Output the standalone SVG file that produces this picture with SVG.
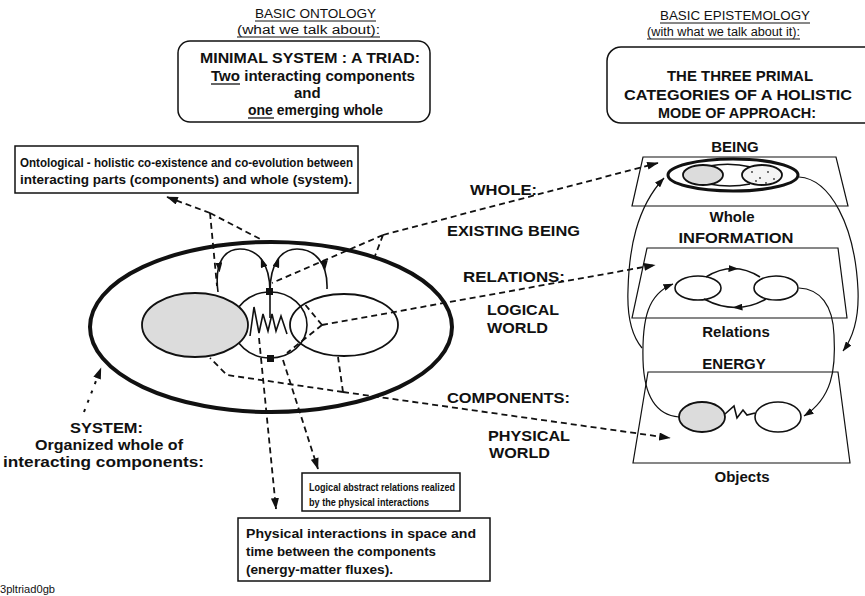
<svg xmlns="http://www.w3.org/2000/svg" width="865" height="596" viewBox="0 0 865 596">
<defs>
<style>
text{font-family:"Liberation Sans",Arial,sans-serif;fill:#111}
.b{font-weight:bold}
.h{font-size:12px}
.t15{font-size:15px;font-weight:bold}
.t12{font-size:12px;font-weight:bold}
.t11{font-size:11px;font-weight:bold}
.box{fill:#fff;stroke:#111;stroke-width:1.5}
.ln{fill:none;stroke:#111;stroke-width:1.6}
.thin{fill:none;stroke:#111;stroke-width:1.2}
.thick{fill:none;stroke:#111;stroke-width:4}
.d{fill:none;stroke:#111;stroke-width:1.8;stroke-dasharray:6 4}
.dot{fill:none;stroke:#111;stroke-width:2;stroke-dasharray:3 7}
.gray{fill:#dcdcdc;stroke:#111;stroke-width:1.8}
.mk{fill:none;stroke:none}
</style>
<marker id="ah" viewBox="0 0 10 7" refX="9.5" refY="3.5" markerWidth="12" markerHeight="8" markerUnits="userSpaceOnUse" orient="auto"><path d="M0,0 L10,3.5 L0,7 z" fill="#111"/></marker>
<marker id="as" viewBox="0 0 10 7" refX="9.5" refY="3.5" markerWidth="10" markerHeight="7" markerUnits="userSpaceOnUse" orient="auto"><path d="M0,0 L10,3.5 L0,7 z" fill="#111"/></marker>
</defs>
<rect width="865" height="596" fill="#fff"/>

<g id="hdr-ontology">
<text class="h" x="255" y="18" textLength="121" lengthAdjust="spacingAndGlyphs">BASIC ONTOLOGY</text>
<line x1="255" y1="21" x2="376" y2="21" stroke="#111" stroke-width="1"/>
<text class="h" x="237" y="34" textLength="143" lengthAdjust="spacingAndGlyphs">(what we talk about):</text>
<line x1="237" y1="37" x2="380" y2="37" stroke="#111" stroke-width="1"/>
</g>
<g id="hdr-epistemology">
<text class="h" x="660" y="20" textLength="150" lengthAdjust="spacingAndGlyphs">BASIC EPISTEMOLOGY</text>
<line x1="660" y1="23" x2="810" y2="23" stroke="#111" stroke-width="1"/>
<text class="h" x="647" y="36" textLength="153" lengthAdjust="spacingAndGlyphs">(with what we talk about it):</text>
<line x1="647" y1="39" x2="800" y2="39" stroke="#111" stroke-width="1"/>
</g>

<g id="triad-box">
<rect class="box" x="178" y="41" width="252" height="81" rx="12"/>
<text class="t15" x="200" y="63" textLength="220" lengthAdjust="spacingAndGlyphs">MINIMAL SYSTEM : A TRIAD:</text>
<text class="t15" x="211" y="81" textLength="204" lengthAdjust="spacingAndGlyphs">Two interacting components</text>
<line x1="211" y1="84" x2="240" y2="84" stroke="#111" stroke-width="1.3"/>
<text class="t15" x="294" y="98">and</text>
<text class="t15" x="248" y="115" textLength="135" lengthAdjust="spacingAndGlyphs">one emerging whole</text>
<line x1="248" y1="118" x2="274" y2="118" stroke="#111" stroke-width="1.3"/>
</g>

<g id="primal-box">
<rect class="box" x="607" y="47" width="275" height="76" rx="14"/>
<text class="t15" x="667" y="81" textLength="146" lengthAdjust="spacingAndGlyphs">THE THREE PRIMAL</text>
<text class="t15" x="624" y="100" textLength="228" lengthAdjust="spacingAndGlyphs">CATEGORIES OF A HOLISTIC</text>
<text class="t15" x="658" y="118" textLength="158" lengthAdjust="spacingAndGlyphs">MODE OF APPROACH:</text>
</g>

<g id="ontological-box">
<rect class="box" x="15" y="146" width="343" height="47"/>
<text class="t12" x="20" y="167" textLength="333" lengthAdjust="spacingAndGlyphs">Ontological - holistic co-existence and co-evolution between</text>
<text class="t12" x="20" y="184" textLength="332" lengthAdjust="spacingAndGlyphs">interacting parts (components) and whole (system).</text>
</g>

<g id="system">
<ellipse class="thick" cx="271" cy="327" rx="181" ry="85"/>
<ellipse class="ln" cx="270" cy="325" rx="37" ry="33"/>
<ellipse class="gray" cx="195" cy="325" rx="53" ry="32"/>
<ellipse class="ln" cx="344" cy="325" rx="54" ry="31" style="stroke-width:1.8"/>
<path class="ln" d="M218,292 C214,262 225,249 240,249 C257,249 270,262 270,292"/>
<path class="ln" d="M270,292 C270,262 282,249 297,249 C314,249 328,262 327,289"/>
<path class="ln" d="M270,292 L270,318"/>
<path class="ln" d="M250,336 L254,307 L259,333 L263,314 L268,331 L272,314 L276,331 L281,316 L287,334"/>
<rect x="266" y="288" width="7" height="7" fill="#111"/>
<rect x="267" y="355" width="7" height="7" fill="#111"/>
<path class="mk" d="M218.5,258 L219.5,272" marker-end="url(#as)"/>
<path class="mk" d="M266,272 L261,258" marker-end="url(#as)"/>
<path class="mk" d="M274,272 L279,258" marker-end="url(#as)"/>
<path class="mk" d="M324,256 L325,270" marker-end="url(#as)"/>
</g>

<g id="system-label">
<text class="t15" x="70" y="433" textLength="73" lengthAdjust="spacingAndGlyphs">SYSTEM:</text>
<text class="t15" x="35" y="450" textLength="148" lengthAdjust="spacingAndGlyphs">Organized whole of</text>
<text class="t15" x="3" y="467" textLength="201" lengthAdjust="spacingAndGlyphs">interacting components:</text>
</g>

<g id="mid-labels">
<text class="t15" x="470" y="195" textLength="67" lengthAdjust="spacingAndGlyphs">WHOLE:</text>
<text class="t15" x="447" y="236" textLength="133" lengthAdjust="spacingAndGlyphs">EXISTING BEING</text>
<text class="t15" x="463" y="282" textLength="102" lengthAdjust="spacingAndGlyphs">RELATIONS:</text>
<text class="t15" x="487" y="315" textLength="72" lengthAdjust="spacingAndGlyphs">LOGICAL</text>
<text class="t15" x="487" y="333" textLength="61" lengthAdjust="spacingAndGlyphs">WORLD</text>
<text class="t15" x="447" y="403" textLength="123" lengthAdjust="spacingAndGlyphs">COMPONENTS:</text>
<text class="t15" x="488" y="441" textLength="82" lengthAdjust="spacingAndGlyphs">PHYSICAL</text>
<text class="t15" x="489" y="458" textLength="61" lengthAdjust="spacingAndGlyphs">WORLD</text>
</g>

<g id="logical-box">
<rect class="box" x="302" y="473" width="158" height="38"/>
<text class="t11" x="309" y="491" textLength="146" lengthAdjust="spacingAndGlyphs">Logical abstract relations realized</text>
<text class="t11" x="309" y="506" textLength="120" lengthAdjust="spacingAndGlyphs">by the physical interactions</text>
</g>

<g id="physical-box">
<rect class="box" x="238" y="518" width="252" height="63"/>
<text class="t12" x="246" y="538" textLength="230" lengthAdjust="spacingAndGlyphs">Physical interactions in space and</text>
<text class="t12" x="246" y="556" textLength="190" lengthAdjust="spacingAndGlyphs">time between the components</text>
<text class="t12" x="246" y="574" textLength="147" lengthAdjust="spacingAndGlyphs">(energy-matter fluxes).</text>
</g>

<g id="being-plane">
<text class="t15" x="735" y="152" text-anchor="middle">BEING</text>
<polygon class="thin" points="643,157 836,157 848,206 632,206"/>
<ellipse cx="733" cy="175" rx="65" ry="16" fill="none" stroke="#111" stroke-width="3"/>
<path class="ln" d="M709,166 Q730,162 751,167 M709,184 Q730,188 750,184"/>
<ellipse class="gray" cx="703" cy="175" rx="20" ry="10"/>
<ellipse cx="762" cy="175" rx="20" ry="10" fill="#f4f4f4" stroke="#111" stroke-width="1.8"/>
<g fill="#333"><circle cx="752" cy="172" r="0.9"/><circle cx="760" cy="178" r="0.9"/><circle cx="768" cy="172" r="0.9"/><circle cx="774" cy="179" r="0.9"/><circle cx="756" cy="181" r="0.9"/><circle cx="766" cy="183" r="0.9"/></g>
<text class="t15" x="732" y="222" text-anchor="middle">Whole</text>
</g>

<g id="information-plane">
<text class="t15" x="736" y="243" text-anchor="middle" textLength="115" lengthAdjust="spacingAndGlyphs">INFORMATION</text>
<polygon class="thin" points="647,248 838,248 847,318 632,318"/>
<ellipse class="ln" cx="698" cy="288" rx="23" ry="12"/>
<ellipse class="ln" cx="776" cy="288" rx="22" ry="12"/>
<path class="ln" d="M706,277 Q733,260 760,277"/>
<path class="ln" d="M704,299 Q736,316 766,299"/>
<path class="mk" d="M726,268.5 L738,268.8" marker-end="url(#as)"/>
<path class="mk" d="M745,307 L733,307.5" marker-end="url(#as)"/>
<text class="t15" x="736" y="337" text-anchor="middle">Relations</text>
</g>

<g id="energy-plane">
<text class="t15" x="734" y="369" text-anchor="middle">ENERGY</text>
<polygon class="thin" points="648,372 838,372 850,463 633,463"/>
<ellipse class="gray" cx="702" cy="417" rx="23" ry="15"/>
<ellipse class="ln" cx="778" cy="417" rx="23" ry="15"/>
<path class="ln" d="M725,414 L734,406 L737,418 L743,410 L747,415 L755,413"/>
<text class="t15" x="742" y="482" text-anchor="middle">Objects</text>
</g>

<g id="connectors">
<path class="thin" d="M679,417 C655,415 644,395 643,360 C642,318 648,294 673,284" marker-end="url(#as)"/>
<path class="thin" d="M642,348 C632,336 627,315 628,290 C629,250 636,208 664,178" marker-end="url(#as)"/>
<path class="thin" d="M799,288 C820,289 833,305 834,335 C836,370 832,398 804,416" marker-end="url(#as)"/>
<path class="thin" d="M799,177 C830,179 855,225 858,290 C859,315 855,335 843,351" marker-end="url(#as)"/>
<path class="d" d="M383,235 L658,163" marker-end="url(#ah)"/>
<path class="d" d="M383,235 L375,256 M383,235 L272,283"/>
<path class="d" d="M322,325 L655,265" marker-end="url(#ah)"/>
<path class="d" d="M322,325 L303,302 M322,325 L287,353"/>
<path class="d" d="M343,392 L670,438" marker-end="url(#ah)"/>
<path class="d" d="M343,392 L338,357 M343,392 L227,375 L210,358"/>
<path class="d" d="M210,213 L167,197" marker-end="url(#ah)"/>
<path class="d" d="M210,213 L262,240 M210,213 L217,286"/>
<path class="d" d="M259,338 L276,509" marker-end="url(#ah)"/>
<path class="d" d="M283,360 L318,469" marker-end="url(#ah)"/>
<path class="dot" d="M84,412 L101,368" marker-end="url(#ah)"/>
</g>

<text x="0" y="593" style="font-size:10px" textLength="55" lengthAdjust="spacingAndGlyphs">3pltriad0gb</text>
</svg>
